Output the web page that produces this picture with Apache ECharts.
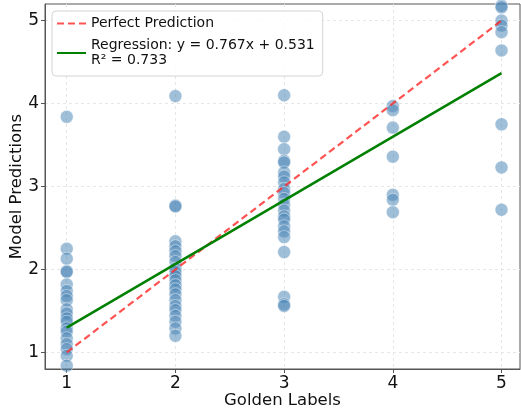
<!DOCTYPE html>
<html>
<head>
<meta charset="utf-8">
<script src="https://cdn.jsdelivr.net/npm/echarts@6/dist/echarts.min.js"></script>
<style>
  html, body { margin: 0; padding: 0; background: #fff; }
  #main { width: 521px; height: 414px; }
</style>
</head>
<body>
<div id="main"></div>
<script>
// model predictions grouped by golden label
const goldenLabels = [1, 2, 3, 4, 5];
const predsFor1 = [3.84, 2.25, 2.13, 1.98, 1.97, 1.82, 1.74, 1.68, 1.63, 1.52, 1.47, 1.41, 1.37, 1.29, 1.25, 1.17, 1.10, 1.04, 0.96, 0.84];
const predsFor2 = [4.09, 2.77, 2.76, 2.34, 2.28, 2.22, 2.16, 2.09, 2.01, 1.97, 1.92, 1.87, 1.81, 1.76, 1.70, 1.63, 1.56, 1.51, 1.44, 1.37, 1.29, 1.20];
const predsFor3 = [4.10, 3.60, 3.45, 3.31, 3.29, 3.17, 3.12, 3.05, 2.97, 2.92, 2.85, 2.78, 2.71, 2.64, 2.60, 2.52, 2.46, 2.39, 2.21, 1.67, 1.58, 1.56];
const predsFor4 = [3.97, 3.92, 3.71, 3.36, 2.90, 2.84, 2.69];
const predsFor5 = [5.18, 5.16, 5.00, 4.94, 4.86, 4.64, 3.75, 3.23, 2.72];

const slope = 0.767;
const intercept = 0.531;
const r2 = 0.733;

const allPreds = [predsFor1, predsFor2, predsFor3, predsFor4, predsFor5];
const points = [];
allPreds.forEach((list, i) => {
    list.forEach(v => points.push([goldenLabels[i], v]));
});

const perfectLine = [[1, 1], [5, 5]];
const regLine = [[1, slope * 1 + intercept], [5, slope * 5 + intercept]];

const regName = 'Regression: y = ' + slope.toFixed(3) + 'x + ' + intercept.toFixed(3) + '\nR\u00b2 = ' + r2.toFixed(3);

const chart = echarts.init(document.getElementById('main'));

const font = 'DejaVu Sans';
const gridLine = { show: true, lineStyle: { color: '#e6e6e6', type: [3, 3], width: 1 } };

const option = {
    animation: false,
    textStyle: { fontFamily: font },
    grid: {
        left: 45, right: 1, top: 4, bottom: 45,
        outerBoundsMode: 'none',
        containLabel: false,
        show: true, borderColor: '#555', borderWidth: 1
    },
    legend: {
        data: ['Perfect Prediction', regName],
        left: 52, top: 11,
        orient: 'vertical',
        itemWidth: 29, itemHeight: 14,
        itemGap: 7,
        padding: [5, 8, 8, 4],
        itemStyle: { opacity: 0 },
        backgroundColor: 'rgba(255,255,255,0.85)',
        borderColor: '#d4d4d4', borderWidth: 1, borderRadius: 4,
        textStyle: { fontFamily: font, fontSize: 14, color: '#111', lineHeight: 15 }
    },
    xAxis: {
        type: 'value',
        min: 0.8, max: 5.17,
        name: 'Golden Labels',
        nameLocation: 'middle', nameGap: 23, nameMoveOverlap: false,
        nameTextStyle: { fontFamily: font, fontSize: 16.5, color: '#111' },
        axisLine: { show: true, onZero: false, lineStyle: { color: '#555' } },
        axisTick: { show: true, customValues: goldenLabels, length: 4, lineStyle: { color: '#555' } },
        axisLabel: { customValues: goldenLabels, fontSize: 17, color: '#111', margin: 6 },
        splitLine: gridLine
    },
    yAxis: {
        type: 'value',
        min: 0.8, max: 5.2,
        name: 'Model Predictions',
        nameLocation: 'middle', nameGap: 20, nameRotate: 90, nameMoveOverlap: false,
        nameTextStyle: { fontFamily: font, fontSize: 16.5, color: '#111' },
        axisLine: { show: true, onZero: false, lineStyle: { color: '#555' } },
        axisTick: { show: true, customValues: goldenLabels, length: 4, lineStyle: { color: '#555' } },
        axisLabel: { customValues: goldenLabels, fontSize: 17, color: '#111', margin: 6 },
        splitLine: gridLine
    },
    series: [
        {
            type: 'scatter',
            name: 'points',
            data: points,
            symbolSize: 13,
            itemStyle: { color: 'rgba(70,130,180,0.65)', borderColor: 'rgba(255,255,255,0.7)', borderWidth: 0.8 },
            z: 2
        },
        {
            type: 'line',
            name: 'Perfect Prediction',
            data: perfectLine,
            showSymbol: false, symbol: 'none',
            lineStyle: { color: 'rgba(255,40,40,0.8)', width: 2.2, type: [7, 4] },
            itemStyle: { color: 'rgba(255,40,40,0.8)' },
            z: 3
        },
        {
            type: 'line',
            name: regName,
            data: regLine,
            showSymbol: false, symbol: 'none',
            lineStyle: { color: '#008000', width: 2.5 },
            itemStyle: { color: '#008000' },
            z: 4
        }
    ]
};

chart.setOption(option);
</script>
</body>
</html>
